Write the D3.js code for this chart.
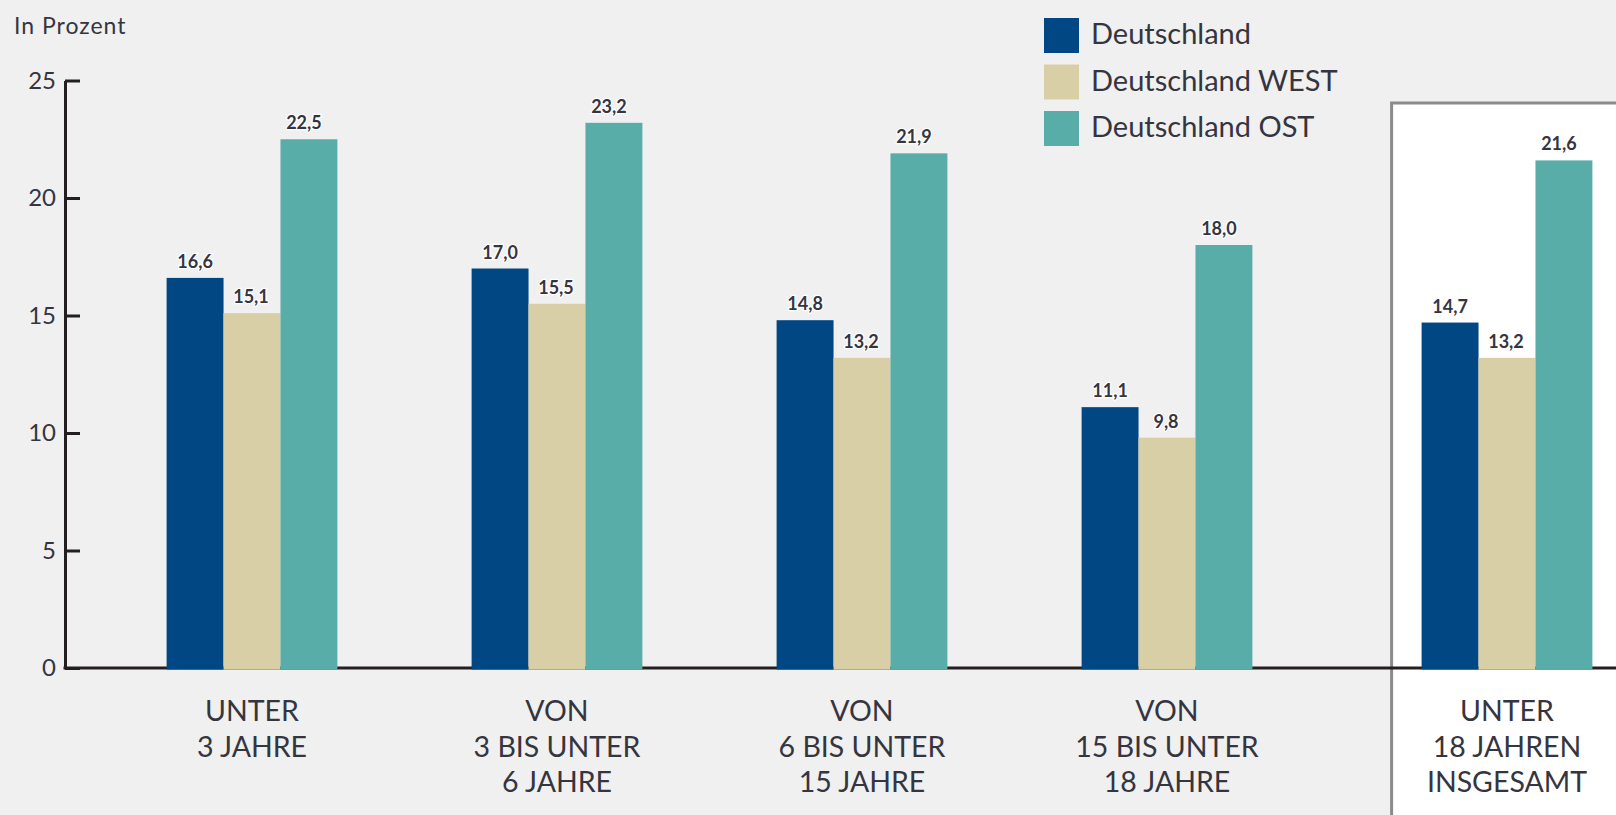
<!DOCTYPE html>
<html>
<head>
<meta charset="utf-8">
<script src="https://cdn.jsdelivr.net/npm/d3@7"></script>
<style>
    body { margin: 0; background: #f0f0f0; }
    svg { display: block; font-family: Lato, "Open Sans", sans-serif; }
</style>
</head>
<body>
<div id="chart"></div>
<script>
// data
const categories = [
    ["UNTER", "3 JAHRE"],
    ["VON", "3 BIS UNTER", "6 JAHRE"],
    ["VON", "6 BIS UNTER", "15 JAHRE"],
    ["VON", "15 BIS UNTER", "18 JAHRE"],
    ["UNTER", "18 JAHREN", "INSGESAMT"]
];
const seriesNames  = ["Deutschland", "Deutschland WEST", "Deutschland OST"];
const deutschland  = [16.6, 17.0, 14.8, 11.1, 14.7];
const west         = [15.1, 15.5, 13.2, 9.8, 13.2];
const ost          = [22.5, 23.2, 21.9, 18.0, 21.6];
const yTicks       = [0, 5, 10, 15, 20, 25];
const yLabel       = "In Prozent";

const colors     = ["#004784", "#d9cfa6", "#58ada8"];
const labelShift = [0, -1, -5];   // value labels of the OST bars sit a little left
const textColor  = "#35353f";
const width = 1616, height = 815;
const totalGap = 35;   // the "insgesamt" group sits a bit further right

const series = [deutschland, west, ost];
const rows = categories.map((c, i) => ({
    index: i,
    lines: c,
    values: series.map((s, j) => ({ key: seriesNames[j], value: s[i], s: j }))
}));

const de = d3.formatLocale({ decimal: ",", thousands: ".", grouping: [3], currency: ["", "€"] });
const fmt = de.format(".1f");

const svg = d3.select("#chart").append("svg")
    .attr("width", width)
    .attr("height", height);

svg.append("rect")
    .attr("width", width).attr("height", height)
    .attr("fill", "#f0f0f0");

// scales
const x0 = d3.scaleBand()
    .domain(rows.map(d => d.index))
    .range([99.5, 1624.5])
    .paddingInner(0.44)
    .paddingOuter(0.22);

const x1 = d3.scaleBand()
    .domain(seriesNames)
    .range([0, x0.bandwidth()]);

const y = d3.scaleLinear()
    .domain([0, 25])
    .range([668, 80.5]);

const groupX = i => x0(i) + (i === rows.length - 1 ? totalGap : 0);

// box around the total group
const last = rows.length - 1;
svg.append("rect")
    .attr("x", groupX(last) - 30)
    .attr("y", 103)
    .attr("width", width)
    .attr("height", height)
    .attr("fill", "#ffffff")
    .attr("stroke", "#8a8a8a")
    .attr("stroke-width", 3);

// y axis
const yAxis = svg.append("g")
    .attr("transform", "translate(65,0)")
    .call(d3.axisLeft(y).tickValues(yTicks).tickSizeInner(-15).tickSizeOuter(0).tickPadding(9));

yAxis.select(".domain")
    .attr("stroke", "#231f20")
    .attr("stroke-width", 3);
yAxis.selectAll(".tick line")
    .attr("stroke", "#231f20")
    .attr("stroke-width", 3);
yAxis.selectAll(".tick text")
    .attr("fill", textColor)
    .style("font-size", "24px")
    .style("font-family", "Lato, sans-serif");

// baseline
svg.append("line")
    .attr("x1", 63.5).attr("x2", width)
    .attr("y1", y(0)).attr("y2", y(0))
    .attr("stroke", "#231f20")
    .attr("stroke-width", 3);

svg.append("text")
    .attr("x", 14)
    .attr("y", 34)
    .attr("fill", textColor)
    .style("font-size", "23px")
    .style("letter-spacing", "1px")
    .text(yLabel);

// bars
const groups = svg.selectAll(".group")
    .data(rows)
    .enter()
    .append("g")
    .attr("class", "group")
    .attr("transform", d => `translate(${groupX(d.index)},0)`);

groups.selectAll("rect")
    .data(d => d.values)
    .enter()
    .append("rect")
    .attr("x", d => x1(d.key))
    .attr("y", d => y(d.value))
    .attr("width", x1.bandwidth())
    .attr("height", d => y(0) + 1.5 - y(d.value))
    .attr("fill", d => colors[d.s]);

groups.selectAll(".value")
    .data(d => d.values)
    .enter()
    .append("text")
    .attr("class", "value")
    .attr("x", d => x1(d.key) + x1.bandwidth() / 2 + labelShift[d.s])
    .attr("y", d => y(d.value) - 10)
    .attr("text-anchor", "middle")
    .attr("fill", textColor)
    .attr("stroke", "#ffffff")
    .attr("stroke-width", 2.5)
    .attr("paint-order", "stroke")
    .style("font-size", "18px")
    .style("font-weight", "bold")
    .text(d => fmt(d.value));

// category labels
groups.append("text")
    .attr("text-anchor", "middle")
    .attr("fill", textColor)
    .style("font-size", "28.5px")
    .selectAll("tspan")
    .data(d => d.lines)
    .enter()
    .append("tspan")
    .attr("x", x0.bandwidth() / 2)
    .attr("y", (d, i) => 721 + i * 35.5)
    .text(d => d);

// legend
const legend = svg.selectAll(".legend")
    .data(seriesNames)
    .enter()
    .append("g")
    .attr("class", "legend")
    .attr("transform", (d, i) => `translate(1044,${18 + i * 46.5})`);

legend.append("rect")
    .attr("width", 35)
    .attr("height", 35)
    .attr("fill", (d, i) => colors[i]);

legend.append("text")
    .attr("x", 47)
    .attr("y", 26)
    .attr("fill", textColor)
    .style("font-size", "29px")
    .text(d => d);
</script>
</body>
</html>
